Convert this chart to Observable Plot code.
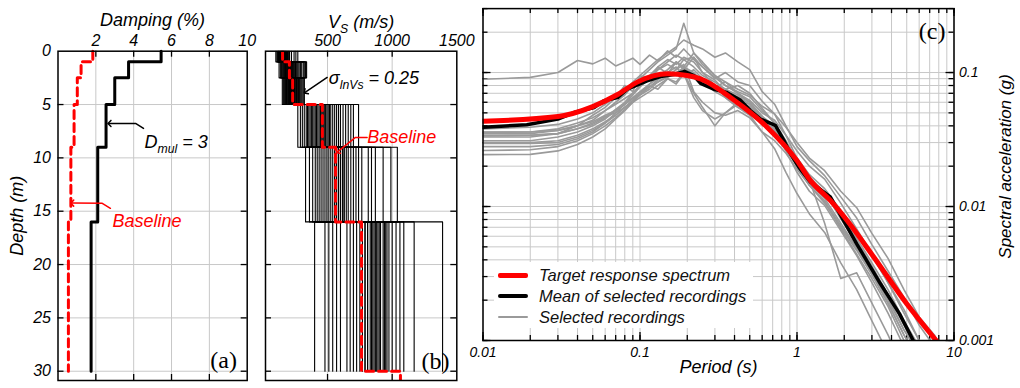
<!DOCTYPE html>
<html>
<head>
<meta charset="utf-8">
<script src="https://cdn.jsdelivr.net/npm/d3@7"></script>
<script src="https://cdn.jsdelivr.net/npm/@observablehq/plot@0.6"></script>
<style>
html, body { margin: 0; padding: 0; background: #fff; }
#chart { position: relative; width: 1020px; height: 388px; overflow: hidden; background: #fff;
  font-family: "Liberation Sans", Arial, sans-serif; font-style: italic; }
#chart svg { position: absolute; top: 0; }
.legend { position: absolute; background: #fff; }
.legend .sw { position: absolute; }
.legend .lb { position: absolute; font-size: 16.5px; line-height: 1; white-space: nowrap; transform: translateY(-50%); color: #111; }
</style>
</head>
<body>
<div id="chart"></div>
<script>
// ---------------- DATA ----------------
// Panel (a): damping profiles (layered)
const layerTop = [0, 1, 2.5, 5, 9, 16];
const layerBottom = [1, 2.5, 5, 9, 16, 30];
const dampingMul3 = [5.45, 3.73, 3.0, 2.54, 2.1, 1.75];
const dampingBaseline = [1.84, 1.22, 1.02, 0.85, 0.68, 0.55];
const dampingTicks = [2, 4, 6, 8, 10];
const dampingGrid = [2, 4, 6, 8];
const depthTicks = [0, 5, 10, 15, 20, 25, 30];
const depthGrid = [5, 10, 15, 20, 25, 30];

// Panel (b): Vs realizations, one array per layer (one value per realization)
const vsLayer1 = [155,120,182,140,100,171,136,206,148,127,190,162,114,241,150,133,174,108,200,157,145,221,123,165,130,186,139,255,152,119,178,142,270,168,195,160];
const vsLayer2 = [230,161,204,290,143,188,252,175,125,216,338,196,166,240,184,272,150,208,312,180,225,135,258,200,171,330,192,156,246,212,280,220,300,235,265,320];
const vsLayer3 = [201,265,177,233,310,150,245,213,288,187,225,170,302,241,197,260,158,221,276,209,318,182,250,229,165,295,237,192,270,205,320,217,255,177,282,236];
const vsLayer4 = [445,365,555,305,485,620,405,345,515,270,465,700,385,435,540,290,495,425,585,355,640,455,320,475,395,740,505,375,525,335,600,415,680,465,570,660];
const vsLayer5 = [570,435,720,480,615,360,840,525,645,405,990,555,465,700,600,330,510,765,585,420,930,630,495,680,540,385,870,450,660,600,1040,570,740,620,815,555];
const vsLayer6 = [850,600,1000,790,480,930,700,870,1170,810,650,950,540,890,770,1060,830,400,910,725,975,860,1390,750,880,570,940,810,1030,675,900,840,510,960,790,1090];
const vsBaseline = [152, 205, 230, 460, 562, 763, 1064];
const vsBaselineTop = [0, 1, 2.5, 5, 9, 16, 30];
const vsBaselineBottom = [1, 2.5, 5, 9, 16, 30, 31];
const vsTicks = [500, 1000, 1500];
const vsGrid = [500, 1000];

// Panel (c): response spectra
const periods = [0.01,0.02,0.03,0.04,0.05,0.06,0.07,0.08,0.09,0.1,0.115,0.13,0.15,0.17,0.19,0.22,0.25,0.3,0.35,0.42,0.5,0.6,0.72,0.85,1.0,1.2,1.5,1.9,2.4,3.0,3.8,4.8,6.0,7.5,10];
const recA = [0.089,0.092,0.100,0.123,0.116,0.128,0.112,0.120,0.128,0.115,0.135,0.122,0.145,0.130,0.150,0.125,0.110,0.092,0.080,0.072,0.066,0.052,0.042,0.030,0.021,0.015,0.0115,0.0075,0.0049,0.0031,0.0019,0.0011,0.0007,0.0004,0.0002];
const recB = [0.038,0.039,0.041,0.045,0.050,0.058,0.066,0.072,0.085,0.095,0.110,0.125,0.140,0.155,0.175,0.160,0.150,0.130,0.140,0.120,0.105,0.072,0.058,0.040,0.028,0.022,0.017,0.0118,0.0082,0.0052,0.0033,0.0021,0.0013,0.0009,0.0005];
const recC = [0.036,0.036,0.038,0.042,0.046,0.052,0.060,0.068,0.080,0.090,0.105,0.120,0.135,0.150,0.233,0.140,0.120,0.095,0.085,0.070,0.060,0.047,0.036,0.026,0.018,0.013,0.0102,0.0066,0.0043,0.0027,0.0016,0.0009,0.0006,0.0003,0.0002];
const recD = [0.035,0.035,0.037,0.040,0.048,0.055,0.065,0.080,0.072,0.095,0.088,0.110,0.098,0.120,0.105,0.130,0.110,0.090,0.100,0.085,0.080,0.061,0.049,0.034,0.023,0.0165,0.0128,0.0081,0.0053,0.0034,0.0021,0.0012,0.0008,0.0004,0.0002];
const recE = [0.034,0.034,0.035,0.038,0.042,0.047,0.050,0.055,0.060,0.065,0.072,0.080,0.090,0.085,0.100,0.070,0.055,0.040,0.050,0.060,0.058,0.047,0.038,0.028,0.020,0.0158,0.0128,0.0085,0.0056,0.0036,0.0022,0.0013,0.0008,0.0005,0.0003];
const recF = [0.033,0.033,0.035,0.040,0.044,0.052,0.058,0.064,0.070,0.080,0.095,0.110,0.125,0.115,0.130,0.120,0.100,0.080,0.075,0.068,0.060,0.047,0.040,0.028,0.020,0.0144,0.011,0.0068,0.0044,0.0029,0.0018,0.0010,0.0006,0.0003,0.0002];
const recG = [0.031,0.031,0.033,0.036,0.040,0.045,0.052,0.058,0.065,0.072,0.082,0.090,0.100,0.110,0.095,0.105,0.090,0.080,0.065,0.055,0.048,0.036,0.027,0.018,0.0125,0.0088,0.0064,0.0038,0.0024,0.0014,0.0008,0.0004,0.0003,0.0002,0.0001];
const recH = [0.030,0.030,0.031,0.034,0.038,0.043,0.048,0.055,0.062,0.070,0.080,0.075,0.090,0.082,0.098,0.065,0.052,0.045,0.050,0.058,0.056,0.045,0.038,0.030,0.023,0.0173,0.0136,0.0094,0.0064,0.0043,0.0027,0.0017,0.0010,0.0007,0.0003];
const recI = [0.028,0.028,0.029,0.032,0.036,0.042,0.050,0.058,0.068,0.078,0.090,0.105,0.120,0.135,0.125,0.110,0.095,0.085,0.075,0.080,0.070,0.054,0.042,0.031,0.022,0.0158,0.0075,0.0029,0.0032,0.0019,0.0011,0.0006,0.0004,0.0002,0.0001];
const recJ = [0.0262,0.0265,0.028,0.031,0.035,0.040,0.046,0.053,0.060,0.068,0.078,0.088,0.100,0.095,0.110,0.100,0.085,0.072,0.065,0.055,0.050,0.041,0.034,0.027,0.020,0.0158,0.0128,0.0085,0.0058,0.0038,0.0024,0.0014,0.0009,0.0005,0.0003];
const recK = [0.0244,0.0245,0.026,0.029,0.033,0.038,0.045,0.052,0.060,0.070,0.082,0.095,0.105,0.120,0.110,0.140,0.115,0.095,0.080,0.070,0.062,0.050,0.044,0.034,0.026,0.020,0.0160,0.0106,0.0068,0.0044,0.0027,0.0016,0.0010,0.0006,0.0003];
const recL = [0.0358,0.036,0.037,0.040,0.043,0.048,0.052,0.058,0.064,0.070,0.078,0.085,0.092,0.100,0.108,0.098,0.088,0.078,0.085,0.075,0.068,0.056,0.049,0.039,0.030,0.023,0.0185,0.0130,0.0098,0.0063,0.0041,0.0024,0.0015,0.0011,0.0006];
const recM = [0.0336,0.034,0.035,0.038,0.041,0.046,0.053,0.060,0.070,0.080,0.092,0.105,0.115,0.105,0.125,0.130,0.100,0.088,0.072,0.066,0.058,0.045,0.037,0.027,0.020,0.0144,0.0106,0.0070,0.0047,0.0031,0.0019,0.0011,0.0007,0.0004,0.0002];
const recN = [0.0296,0.0296,0.030,0.033,0.037,0.042,0.048,0.055,0.062,0.068,0.075,0.085,0.095,0.105,0.115,0.072,0.060,0.050,0.048,0.052,0.046,0.036,0.031,0.025,0.019,0.0144,0.0110,0.0072,0.0049,0.0032,0.0020,0.0012,0.0008,0.0004,0.0002];
const meanPeriods = [0.01,0.019,0.03,0.038,0.051,0.059,0.072,0.083,0.111,0.135,0.164,0.192,0.22,0.243,0.295,0.358,0.437,0.505,0.585,0.68,0.73,0.82,0.91,1.03,1.22,1.63,2.4,3.4,4.5,5.5];
const meanSa = [0.0391,0.0408,0.0449,0.0503,0.0548,0.0617,0.065,0.0752,0.0868,0.0932,0.0965,0.102,0.095,0.083,0.075,0.071,0.062,0.052,0.0449,0.0418,0.0402,0.0316,0.0247,0.0196,0.0152,0.0118,0.00527,0.00265,0.00158,0.001];
const targetPeriods = [0.01,0.03,0.05,0.072,0.096,0.15,0.2,0.243,0.4,0.645,1.0,1.22,1.63,2.08,3.08,5.0,7.7];
const targetSa = [0.0433,0.047,0.0557,0.0685,0.0848,0.0978,0.095,0.0897,0.0618,0.0391,0.022,0.0156,0.0111,0.0079,0.0042,0.00188,0.001];
const periodGrid = [0.01,0.02,0.03,0.04,0.05,0.06,0.07,0.08,0.09,0.1,0.2,0.3,0.4,0.5,0.6,0.7,0.8,0.9,1,2,3,4,5,6,7,8,9,10];
const periodMajor = [0.01, 0.1, 1, 10];
const saGrid = [0.001,0.002,0.003,0.004,0.005,0.006,0.007,0.008,0.009,0.01,0.02,0.03,0.04,0.05,0.06,0.07,0.08,0.09,0.1,0.2,0.3];
const saMajor = [0.001, 0.01, 0.1];
const legendLabels = ["Target response spectrum", "Mean of selected recordings", "Selected recordings"];
const legendColors = ["#ff0000", "#000000", "#9a9a9a"];
const legendWidths = [5, 4, 2];

// annotations (data coordinates)
const annotA = [{x: 4.57, y: 8.5, label: "D_{mul} = 3"}];
const annotARed = [{x: 2.88, y: 15.93, label: "Baseline"}];
const arrowA1 = [{x: 4.52, y: 7.24}, {x: 4.10, y: 6.77}, {x: 2.72, y: 6.77}];
const arrowA2 = [{x: 2.77, y: 14.73}, {x: 2.34, y: 14.26}, {x: 0.75, y: 14.24}];
const annotB = [{x: 510, y: 2.5, label: "σ_{lnVs} = 0.25"}];
const annotBRed = [{x: 807, y: 8.05, label: "Baseline"}];
const arrowB1 = [{x: 497, y: 2.46}, {x: 329, y: 3.84}];
const arrowB2 = [{x: 806, y: 8.08}, {x: 716, y: 8.08}, {x: 577, y: 9.44}];
const panelA = [{x: 8.75, y: 28.97, label: "(a)"}];
const panelB = [{x: 1335, y: 29.1, label: "(b)"}];
const panelC = [{x: 7.26, y: 0.202, label: "(c)"}];

// ---------------- HELPERS ----------------
const RED = "#ff0000";
const GRID = "#c8c8c8";
const SANS = "Liberation Sans, Arial, sans-serif";
const SERIF = "Liberation Serif, Times New Roman, serif";
const chart = document.getElementById("chart");

function stepRows(values, tops, bottoms) {
  const rows = [];
  values.forEach((v, i) => { rows.push({v, d: tops[i]}); rows.push({v, d: bottoms[i]}); });
  return rows;
}
function ticksX(values, fh, len) {
  return [
    Plot.tickX(values, {x: d => d, insetTop: fh - len, stroke: "black", strokeWidth: 1.3}),
    Plot.tickX(values, {x: d => d, insetBottom: fh - len, stroke: "black", strokeWidth: 1.3})
  ];
}
function ticksY(values, fw, len) {
  return [
    Plot.tickY(values, {y: d => d, insetRight: fw - len, stroke: "black", strokeWidth: 1.3}),
    Plot.tickY(values, {y: d => d, insetLeft: fw - len, stroke: "black", strokeWidth: 1.3})
  ];
}
function richText(svg, fs) {
  const NS = "http://www.w3.org/2000/svg";
  svg.querySelectorAll("text").forEach(t => {
    const m = t.textContent.match(/^(.*?)_\{(.*?)\}(.*)$/);
    if (!m) return;
    t.textContent = "";
    const a = document.createElementNS(NS, "tspan"); a.textContent = m[1]; t.appendChild(a);
    const b = document.createElementNS(NS, "tspan"); b.textContent = m[2];
    b.setAttribute("font-size", fs * 0.68); b.setAttribute("dy", fs * 0.3); t.appendChild(b);
    const c = document.createElementNS(NS, "tspan"); c.textContent = m[3];
    c.setAttribute("font-size", fs); c.setAttribute("dy", -fs * 0.3); t.appendChild(c);
  });
}
function place(svg, left) {
  svg.style.position = "absolute";
  svg.style.left = left + "px";
  svg.style.top = "0px";
  chart.appendChild(svg);
}
const baseStyle = {background: "transparent", overflow: "visible", fontFamily: SANS, fontSize: "16px", fontStyle: "italic", color: "black"};

// ---------------- PANEL (a) ----------------
{
  const W = 255, H = 388, mt = 50.7, mb = 8, ml = 57.5, mr = 8.3;
  const fh = H - mt - mb, fw = W - ml - mr;
  const svg = Plot.plot({
    width: W, height: H, marginTop: mt, marginBottom: mb, marginLeft: ml, marginRight: mr,
    x: {domain: [0, 10]},
    y: {domain: [0, 30.87], reverse: true},
    style: baseStyle,
    marks: [
      Plot.ruleX(dampingGrid, {stroke: GRID, strokeWidth: 1}),
      Plot.ruleY(depthGrid, {stroke: GRID, strokeWidth: 1}),
      Plot.line(stepRows(dampingBaseline, layerTop, layerBottom), {x: "v", y: "d", stroke: RED, strokeWidth: 3, strokeDasharray: "8,5"}),
      Plot.line(stepRows(dampingMul3, layerTop, layerBottom), {x: "v", y: "d", stroke: "black", strokeWidth: 3}),
      ...ticksX(dampingGrid, fh, 6),
      ...ticksY(depthGrid, fw, 6),
      Plot.frame({stroke: "black", strokeWidth: 1.5}),
      Plot.axisX(dampingTicks, {anchor: "top", tickSize: 0, tickPadding: 5, label: null, fontSize: 16}),
      Plot.axisY(depthTicks, {anchor: "left", tickSize: 0, tickPadding: 7, label: null, fontSize: 16}),
      Plot.text(["Damping (%)"], {text: d => d, frameAnchor: "top", dy: -38, fontSize: 18}),
      Plot.text(["Depth (m)"], {text: d => d, frameAnchor: "left", textAnchor: "middle", dx: -41, rotate: -90, fontSize: 18}),
      Plot.line(arrowA1, {x: "x", y: "y", stroke: "black", strokeWidth: 1.5, markerEnd: "arrow"}),
      Plot.line(arrowA2, {x: "x", y: "y", stroke: RED, strokeWidth: 1.5, markerEnd: "arrow"}),
      Plot.text(annotA, {x: "x", y: "y", text: "label", textAnchor: "start", fontSize: 18, fill: "black"}),
      Plot.text(annotARed, {x: "x", y: "y", text: "label", textAnchor: "start", fontSize: 18, fill: RED}),
      Plot.text(panelA, {x: "x", y: "y", text: "label", fontSize: 24, fontFamily: SERIF, fontStyle: "normal"})
    ]
  });
  richText(svg, 18);
  place(svg, 0);
}

// ---------------- PANEL (b) ----------------
{
  const W = 215, H = 388, mt = 50.7, mb = 8, ml = 10, mr = 13.7;
  const fh = H - mt - mb, fw = W - ml - mr;
  const layers = [vsLayer1, vsLayer2, vsLayer3, vsLayer4, vsLayer5, vsLayer6];
  const profiles = [];
  vsLayer1.forEach((_, p) => {
    layers.forEach((L, k) => {
      profiles.push({id: p, v: L[p], d: layerTop[k]});
      profiles.push({id: p, v: L[p], d: layerBottom[k]});
    });
  });
  const svg = Plot.plot({
    width: W, height: H, marginTop: mt, marginBottom: mb, marginLeft: ml, marginRight: mr,
    x: {domain: [20, 1500]},
    y: {domain: [0, 30.87], reverse: true, axis: null},
    style: baseStyle,
    marks: [
      Plot.ruleX(vsGrid, {stroke: GRID, strokeWidth: 1}),
      Plot.ruleY(depthGrid, {stroke: GRID, strokeWidth: 1}),
      Plot.line(profiles, {x: "v", y: "d", z: "id", stroke: "black", strokeWidth: 1.1}),
      Plot.line(stepRows(vsBaseline, vsBaselineTop, vsBaselineBottom), {x: "v", y: "d", stroke: RED, strokeWidth: 3, strokeDasharray: "8,5", clip: true}),
      ...ticksX(vsGrid, fh, 6),
      ...ticksY(depthGrid, fw, 6),
      Plot.frame({stroke: "black", strokeWidth: 1.5}),
      Plot.axisX(vsTicks, {anchor: "top", tickSize: 0, tickPadding: 5, label: null, fontSize: 16, tickFormat: d => String(d)}),
      Plot.text(["V_{S} (m/s)"], {text: d => d, frameAnchor: "top", dy: -36, fontSize: 18}),
      Plot.line(arrowB1, {x: "x", y: "y", stroke: "black", strokeWidth: 1.5, markerEnd: "arrow"}),
      Plot.line(arrowB2, {x: "x", y: "y", stroke: RED, strokeWidth: 1.5, markerEnd: "arrow"}),
      Plot.text(annotB, {x: "x", y: "y", text: "label", textAnchor: "start", fontSize: 18, fill: "black"}),
      Plot.text(annotBRed, {x: "x", y: "y", text: "label", textAnchor: "start", fontSize: 18, fill: RED}),
      Plot.text(panelB, {x: "x", y: "y", text: "label", fontSize: 24, fontFamily: SERIF, fontStyle: "normal"})
    ]
  });
  richText(svg, 18);
  place(svg, 255);
}

// ---------------- PANEL (c) ----------------
{
  const W = 550, H = 388, mt = 8.1, mb = 48, ml = 12.5, mr = 66.5;
  const fh = H - mt - mb, fw = W - ml - mr;
  const recs = [recA, recB, recC, recD, recE, recF, recG, recH, recI, recJ, recK, recL, recM, recN];
  const recRows = [];
  recs.forEach((r, i) => r.forEach((s, j) => recRows.push({id: i, T: periods[j], Sa: s})));
  const meanRows = meanPeriods.map((T, i) => ({T, Sa: meanSa[i]}));
  const targetRows = targetPeriods.map((T, i) => ({T, Sa: targetSa[i]}));
  const svg = Plot.plot({
    width: W, height: H, marginTop: mt, marginBottom: mb, marginLeft: ml, marginRight: mr,
    x: {type: "log", domain: [0.01, 10]},
    y: {type: "log", domain: [0.001, 0.3]},
    style: baseStyle,
    marks: [
      Plot.ruleX(periodGrid, {stroke: GRID, strokeWidth: 1}),
      Plot.ruleY(saGrid, {stroke: GRID, strokeWidth: 1}),
      ...ticksX(periodGrid, fh, 5),
      ...ticksX(periodMajor, fh, 8),
      ...ticksY(saGrid, fw, 5),
      ...ticksY(saMajor, fw, 8),
      Plot.line(recRows, {x: "T", y: "Sa", z: "id", stroke: "#9a9a9a", strokeWidth: 1.6, clip: true}),
      Plot.line(meanRows, {x: "T", y: "Sa", stroke: "black", strokeWidth: 3.5, clip: true}),
      Plot.line(targetRows, {x: "T", y: "Sa", stroke: RED, strokeWidth: 5, curve: "monotone-x", clip: true}),
      Plot.frame({stroke: "black", strokeWidth: 1.5}),
      Plot.axisX(periodMajor, {anchor: "bottom", tickSize: 0, tickPadding: 7, label: null, fontSize: 14, tickFormat: d => String(d)}),
      Plot.axisY(saMajor, {anchor: "right", tickSize: 0, tickPadding: 5, label: null, fontSize: 14, tickFormat: d => String(d)}),
      Plot.text(["Period (s)"], {text: d => d, frameAnchor: "bottom", dy: 32, fontSize: 18}),
      Plot.text(["Spectral acceleration (g)"], {text: d => d, frameAnchor: "right", textAnchor: "middle", dx: 51.5, dy: -8, rotate: -90, fontSize: 17}),
      Plot.text(panelC, {x: "x", y: "y", text: "label", fontSize: 24, fontFamily: SERIF, fontStyle: "normal"})
    ]
  });
  place(svg, 470);
}

// ---------------- LEGEND (panel c) ----------------
{
  const lg = document.createElement("div");
  lg.className = "legend";
  Object.assign(lg.style, {left: "494px", top: "262px", width: "259px", height: "66px"});
  const rowCenters = [13, 34, 54.7];
  legendLabels.forEach((label, i) => {
    const sw = document.createElement("div");
    sw.className = "sw";
    Object.assign(sw.style, {left: "3.5px", width: "30px", top: (rowCenters[i] - legendWidths[i] / 2) + "px",
      height: legendWidths[i] + "px", background: legendColors[i], borderRadius: "2px"});
    lg.appendChild(sw);
    const lb = document.createElement("div");
    lb.className = "lb";
    lb.textContent = label;
    Object.assign(lb.style, {left: "45px", top: rowCenters[i] + "px"});
    lg.appendChild(lb);
  });
  chart.appendChild(lg);
}
</script>
</body>
</html>
